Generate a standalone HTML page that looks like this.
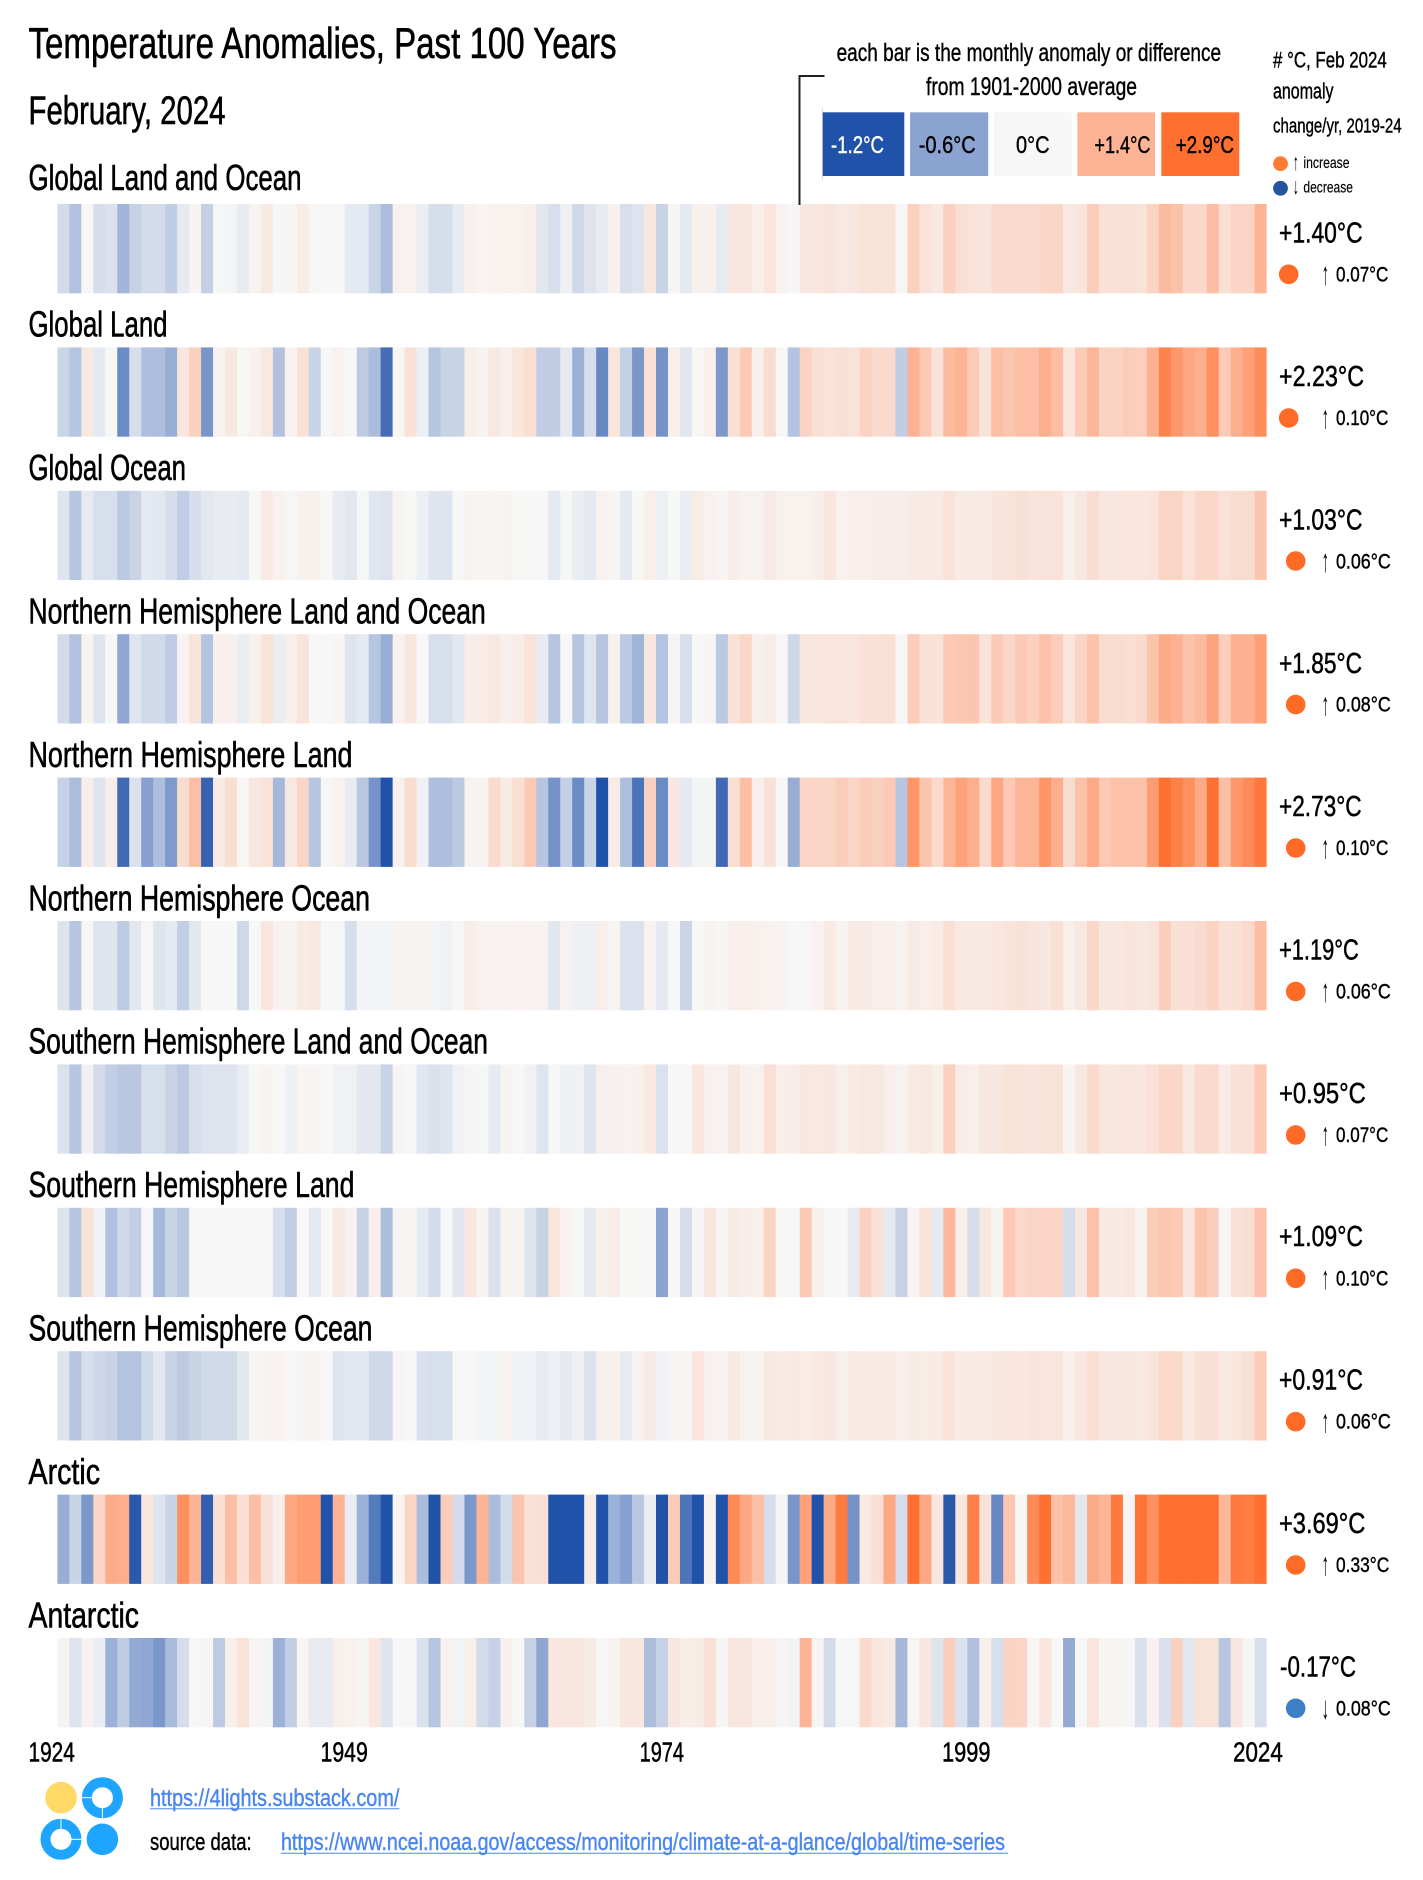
<!DOCTYPE html>
<html lang="en">
<head>
<meta charset="utf-8">
<title>Temperature Anomalies, Past 100 Years</title>
<style>
html,body{margin:0;padding:0;background:#fff;}
svg{display:block;}
text{font-family:"Liberation Sans",sans-serif;fill:#000;stroke:#000;stroke-width:.4;}
text[font-size="44"],text[font-size="40"],text[font-size="36"]{stroke-width:.6;}
text[font-size="29"],text[font-size="28"]{stroke-width:.5;}
text[font-size="16"]{stroke-width:.15;}
text[font-size="32"],text[font-size="23"]{stroke-width:0;}
</style>
</head>
<body>
<svg id="chart" xmlns="http://www.w3.org/2000/svg" width="1423" height="1880" viewBox="0 0 1423 1880">
<rect x="0" y="0" width="1423" height="1880" fill="#fff"/>
<g id="stripes"></g>

<text x="28.5" y="58" font-size="44" textLength="588" lengthAdjust="spacingAndGlyphs">Temperature Anomalies, Past 100 Years</text>
<text x="28.5" y="124" font-size="40" textLength="197" lengthAdjust="spacingAndGlyphs">February, 2024</text>

<text x="836.6" y="61" font-size="25" textLength="384.5" lengthAdjust="spacingAndGlyphs">each bar is the monthly anomaly or difference</text>
<text x="926" y="95" font-size="25" textLength="211" lengthAdjust="spacingAndGlyphs">from 1901-2000 average</text>
<path d="M824.5 76 H799.5 V205" fill="none" stroke="#222" stroke-width="2"/>
<line x1="822.5" y1="108" x2="822.5" y2="180" stroke="#ddd" stroke-width="1"/>
<rect x="822.7" y="112.3" width="81.6" height="63.7" fill="#2152a9"/>
<rect x="910.1" y="112.3" width="78.1" height="63.7" fill="#8aa3d0"/>
<rect x="994" y="112.3" width="77.6" height="63.7" fill="#f7f7f7"/>
<rect x="1077.4" y="112.3" width="77.6" height="63.7" fill="#fdb394"/>
<rect x="1161.3" y="112.3" width="78" height="63.7" fill="#ff6f2f"/>
<text x="831" y="153" font-size="24" textLength="53" lengthAdjust="spacingAndGlyphs" style="fill:#fff;stroke:#fff">-1.2°C</text>
<text x="918.7" y="153" font-size="24" textLength="57" lengthAdjust="spacingAndGlyphs">-0.6°C</text>
<text x="1016" y="153" font-size="24" textLength="33.6" lengthAdjust="spacingAndGlyphs">0°C</text>
<text x="1094.4" y="153" font-size="24" textLength="56" lengthAdjust="spacingAndGlyphs">+1.4°C</text>
<text x="1175.6" y="153" font-size="24" textLength="58.4" lengthAdjust="spacingAndGlyphs">+2.9°C</text>

<text x="1273" y="67.7" font-size="22" textLength="113.8" lengthAdjust="spacingAndGlyphs"># °C, Feb 2024</text>
<text x="1273" y="98.7" font-size="22" textLength="60.5" lengthAdjust="spacingAndGlyphs">anomaly</text>
<text x="1273" y="132.7" font-size="20" textLength="128.6" lengthAdjust="spacingAndGlyphs">change/yr, 2019-24</text>
<circle cx="1280.5" cy="163.7" r="7.4" fill="#ff7a33"/>
<text x="1292.8" y="170" font-size="23" textLength="6" lengthAdjust="spacingAndGlyphs">↑</text>
<text x="1303.4" y="168" font-size="16" textLength="46.2" lengthAdjust="spacingAndGlyphs">increase</text>
<circle cx="1280.5" cy="188.3" r="7.4" fill="#25559f"/>
<text x="1292.8" y="194" font-size="23" textLength="6" lengthAdjust="spacingAndGlyphs">↓</text>
<text x="1303.4" y="192.7" font-size="16" textLength="49.6" lengthAdjust="spacingAndGlyphs">decrease</text>

<text x="28.5" y="190" font-size="36" textLength="273" lengthAdjust="spacingAndGlyphs">Global Land and Ocean</text>
<text x="28.5" y="336.7" font-size="36" textLength="139" lengthAdjust="spacingAndGlyphs">Global Land</text>
<text x="28.5" y="480" font-size="36" textLength="157.5" lengthAdjust="spacingAndGlyphs">Global Ocean</text>
<text x="28.5" y="623.3" font-size="36" textLength="457.3" lengthAdjust="spacingAndGlyphs">Northern Hemisphere Land and Ocean</text>
<text x="28.5" y="767" font-size="36" textLength="324" lengthAdjust="spacingAndGlyphs">Northern Hemisphere Land</text>
<text x="28.5" y="910.3" font-size="36" textLength="341.5" lengthAdjust="spacingAndGlyphs">Northern Hemisphere Ocean</text>
<text x="28.5" y="1053.7" font-size="36" textLength="459.5" lengthAdjust="spacingAndGlyphs">Southern Hemisphere Land and Ocean</text>
<text x="28.5" y="1197" font-size="36" textLength="325.9" lengthAdjust="spacingAndGlyphs">Southern Hemisphere Land</text>
<text x="28.5" y="1340.5" font-size="36" textLength="343.9" lengthAdjust="spacingAndGlyphs">Southern Hemisphere Ocean</text>
<text x="28.5" y="1484" font-size="36" textLength="71.5" lengthAdjust="spacingAndGlyphs">Arctic</text>
<text x="28.5" y="1627.5" font-size="36" textLength="110.5" lengthAdjust="spacingAndGlyphs">Antarctic</text>

<text x="1279" y="242.7" font-size="29" textLength="83.6" lengthAdjust="spacingAndGlyphs">+1.40°C</text>
<text x="1279" y="385.8" font-size="29" textLength="85" lengthAdjust="spacingAndGlyphs">+2.23°C</text>
<text x="1279" y="529.4" font-size="29" textLength="83.5" lengthAdjust="spacingAndGlyphs">+1.03°C</text>
<text x="1279" y="672.8" font-size="29" textLength="83" lengthAdjust="spacingAndGlyphs">+1.85°C</text>
<text x="1279" y="816" font-size="29" textLength="82.6" lengthAdjust="spacingAndGlyphs">+2.73°C</text>
<text x="1279" y="959.4" font-size="29" textLength="79.8" lengthAdjust="spacingAndGlyphs">+1.19°C</text>
<text x="1279" y="1102.8" font-size="29" textLength="86.8" lengthAdjust="spacingAndGlyphs">+0.95°C</text>
<text x="1279" y="1246.2" font-size="29" textLength="84" lengthAdjust="spacingAndGlyphs">+1.09°C</text>
<text x="1279" y="1389.6" font-size="29" textLength="84" lengthAdjust="spacingAndGlyphs">+0.91°C</text>
<text x="1279" y="1533" font-size="29" textLength="86.3" lengthAdjust="spacingAndGlyphs">+3.69°C</text>
<text x="1280" y="1676.4" font-size="29" textLength="76" lengthAdjust="spacingAndGlyphs">-0.17°C</text>

<circle cx="1288.7" cy="274.3" r="9.8" fill="#ff6a26"/>
<circle cx="1288.7" cy="418" r="9.8" fill="#ff6a26"/>
<circle cx="1295.7" cy="561" r="9.8" fill="#ff6a26"/>
<circle cx="1295.7" cy="704.6" r="9.8" fill="#ff6a26"/>
<circle cx="1295.7" cy="848" r="9.8" fill="#ff6a26"/>
<circle cx="1295.7" cy="991.5" r="9.8" fill="#ff6a26"/>
<circle cx="1295.7" cy="1135" r="9.8" fill="#ff6a26"/>
<circle cx="1295.7" cy="1278.3" r="9.8" fill="#ff6a26"/>
<circle cx="1295.7" cy="1421.7" r="9.8" fill="#ff6a26"/>
<circle cx="1295.7" cy="1565" r="9.8" fill="#ff6a26"/>
<circle cx="1295.7" cy="1708.3" r="9.8" fill="#3d80c8"/>

<text x="1321.5" y="284.5" font-size="32" textLength="7.5" lengthAdjust="spacingAndGlyphs">↑</text>
<text x="1321.5" y="428" font-size="32" textLength="7.5" lengthAdjust="spacingAndGlyphs">↑</text>
<text x="1321.5" y="571.4" font-size="32" textLength="7.5" lengthAdjust="spacingAndGlyphs">↑</text>
<text x="1321.5" y="714.8" font-size="32" textLength="7.5" lengthAdjust="spacingAndGlyphs">↑</text>
<text x="1321.5" y="858.2" font-size="32" textLength="7.5" lengthAdjust="spacingAndGlyphs">↑</text>
<text x="1321.5" y="1001.6" font-size="32" textLength="7.5" lengthAdjust="spacingAndGlyphs">↑</text>
<text x="1321.5" y="1145" font-size="32" textLength="7.5" lengthAdjust="spacingAndGlyphs">↑</text>
<text x="1321.5" y="1288.4" font-size="32" textLength="7.5" lengthAdjust="spacingAndGlyphs">↑</text>
<text x="1321.5" y="1431.8" font-size="32" textLength="7.5" lengthAdjust="spacingAndGlyphs">↑</text>
<text x="1321.5" y="1575.2" font-size="32" textLength="7.5" lengthAdjust="spacingAndGlyphs">↑</text>
<text x="1321.5" y="1718.5" font-size="32" textLength="7.5" lengthAdjust="spacingAndGlyphs">↓</text>

<text x="1336" y="281.7" font-size="21" textLength="52.3" lengthAdjust="spacingAndGlyphs">0.07°C</text>
<text x="1336" y="425" font-size="21" textLength="52.3" lengthAdjust="spacingAndGlyphs">0.10°C</text>
<text x="1336" y="568.3" font-size="21" textLength="54.7" lengthAdjust="spacingAndGlyphs">0.06°C</text>
<text x="1336" y="711.7" font-size="21" textLength="54.7" lengthAdjust="spacingAndGlyphs">0.08°C</text>
<text x="1336" y="855.1" font-size="21" textLength="52.3" lengthAdjust="spacingAndGlyphs">0.10°C</text>
<text x="1336" y="998.5" font-size="21" textLength="54.7" lengthAdjust="spacingAndGlyphs">0.06°C</text>
<text x="1336" y="1141.9" font-size="21" textLength="52.3" lengthAdjust="spacingAndGlyphs">0.07°C</text>
<text x="1336" y="1285.3" font-size="21" textLength="52.3" lengthAdjust="spacingAndGlyphs">0.10°C</text>
<text x="1336" y="1428.7" font-size="21" textLength="54.7" lengthAdjust="spacingAndGlyphs">0.06°C</text>
<text x="1336" y="1572.1" font-size="21" textLength="53.3" lengthAdjust="spacingAndGlyphs">0.33°C</text>
<text x="1336" y="1715.5" font-size="21" textLength="54.7" lengthAdjust="spacingAndGlyphs">0.08°C</text>

<text x="28.5" y="1761.7" font-size="28" textLength="46.3" lengthAdjust="spacingAndGlyphs">1924</text>
<text x="320.5" y="1761.7" font-size="28" textLength="47.3" lengthAdjust="spacingAndGlyphs">1949</text>
<text x="639.6" y="1761.7" font-size="28" textLength="44.4" lengthAdjust="spacingAndGlyphs">1974</text>
<text x="942" y="1761.7" font-size="28" textLength="48.5" lengthAdjust="spacingAndGlyphs">1999</text>
<text x="1233" y="1761.7" font-size="28" textLength="49.8" lengthAdjust="spacingAndGlyphs">2024</text>

<g>
  <circle cx="61" cy="1797.7" r="15.8" fill="#ffd866"/>
  <circle cx="102.4" cy="1797.7" r="15.5" fill="none" stroke="#1ea5ff" stroke-width="10"/>
  <circle cx="61" cy="1839.3" r="15.5" fill="none" stroke="#1ea5ff" stroke-width="10"/>
  <circle cx="102.4" cy="1839.3" r="15.8" fill="#1ea5ff"/>
  <line x1="81" y1="1797.7" x2="92.5" y2="1797.7" stroke="#fff" stroke-width="1"/>
  <line x1="102.4" y1="1808" x2="102.4" y2="1819" stroke="#fff" stroke-width="1"/>
  <line x1="61" y1="1818" x2="61" y2="1829" stroke="#fff" stroke-width="1"/>
  <line x1="71" y1="1839.3" x2="82" y2="1839.3" stroke="#fff" stroke-width="1"/>
</g>

<text x="150" y="1806" font-size="24" textLength="249.4" lengthAdjust="spacingAndGlyphs" style="fill:#4a86f0;stroke:#4a86f0">https://4lights.substack.com/</text>
<line x1="150" y1="1808.8" x2="399.4" y2="1808.8" stroke="#4a86f0" stroke-width="1"/>
<text x="150" y="1850" font-size="24" textLength="101.6" lengthAdjust="spacingAndGlyphs">source data:</text>
<text x="281" y="1850" font-size="24" textLength="724" lengthAdjust="spacingAndGlyphs" style="fill:#4a86f0;stroke:#4a86f0">https://www.ncei.noaa.gov/access/monitoring/climate-at-a-glance/global/time-series</text>
<line x1="281" y1="1853.3" x2="1008" y2="1853.3" stroke="#4a86f0" stroke-width="1"/>
</svg>

<script>
const globalLandOcean = [-0.2,-0.38,0,-0.18,-0.15,-0.47,-0.27,-0.2,-0.2,-0.3,-0.1,0.08,-0.28,-0.01,-0.02,-0.08,0.08,0.28,0.02,0.04,0.22,0.03,0,0,-0.1,-0.1,-0.25,-0.42,0.1,0.13,-0.07,-0.18,-0.18,-0.08,0.15,0.07,0.13,0.13,0.13,0.17,-0.12,-0.17,-0.05,-0.22,-0.14,-0.08,0.15,-0.17,-0.14,0.32,-0.26,0.04,-0.1,0.15,0.15,-0.08,0.35,0.35,0.17,0.38,0.12,0.02,0.33,0.36,0.4,0.3,0.32,0.42,0.42,0.42,0.03,0.8,0.42,0.3,0.78,0.52,0.42,0.4,0.6,0.58,0.6,0.58,0.68,0.68,0.3,0.38,0.85,0.45,0.45,0.48,0.42,0.75,1.25,1.1,0.65,0.62,1.2,0.5,0.72,0.72,1.4];
const globalLand = [-0.25,-0.36,0.28,-0.1,0.01,-0.78,-0.18,-0.4,-0.4,-0.52,0.38,0.8,-0.7,0.1,0.3,0.01,0.15,0.3,-0.38,0.1,0.45,-0.25,0.01,0.13,0,-0.32,-0.42,-1,0.07,0.45,-0.06,-0.36,-0.26,-0.26,0.18,0.08,0.3,0.17,0.38,0.52,-0.3,-0.3,-0.1,-0.5,-0.18,-0.8,0.38,-0.28,-0.68,0.45,-0.72,0.17,-0.12,0.01,0.17,-0.68,0.5,0.95,0.15,0.55,0,-0.37,0.75,0.52,0.42,0.48,0.42,0.75,0.6,0.6,-0.3,1.45,0.95,0.42,1.25,1.4,0.9,0.42,1.15,1,1.15,1.15,1.5,1.2,0.38,0.9,1.35,0.75,0.75,0.88,0.83,1.45,2.45,2,1.65,1.5,2.2,0.9,1.5,1.85,2.23];
const globalOcean = [-0.13,-0.36,-0.09,-0.17,-0.17,-0.33,-0.26,-0.1,-0.11,-0.18,-0.3,-0.18,-0.11,-0.08,-0.08,-0.1,0.01,0.25,0.13,0.02,0.14,0.14,0,-0.08,-0.12,-0.01,-0.12,-0.14,0.08,0.01,-0.06,-0.13,-0.13,0,0.08,0.07,0.07,0.09,0.01,0.01,0,-0.1,-0.01,-0.07,-0.1,0.12,0.06,-0.1,0.01,0.17,-0.06,0.01,-0.07,0.22,0.12,0.06,0.2,0.11,0.11,0.25,0.14,0.13,0.13,0.18,0.36,0.13,0.19,0.18,0.2,0.2,0.2,0.27,0.27,0.27,0.44,0.24,0.24,0.26,0.4,0.4,0.47,0.4,0.43,0.42,0.17,0.3,0.53,0.35,0.35,0.38,0.36,0.4,0.7,0.72,0.42,0.65,0.65,0.45,0.55,0.55,1.03];
const nhLandOcean = [-0.2,-0.38,0.09,-0.13,0,-0.57,-0.13,-0.21,-0.21,-0.31,0.08,0.4,-0.37,0.14,0.14,-0.07,0.15,0.44,-0.07,0.17,0.4,0,0,0.06,-0.13,-0.1,-0.35,-0.52,0.12,0.35,0,-0.17,-0.17,-0.11,0.2,0.2,0.3,0.14,0.23,0.42,-0.08,-0.35,0,-0.35,-0.13,-0.35,0.14,-0.33,-0.48,0.33,-0.37,0.05,-0.17,0,0.04,-0.33,0.45,0.65,0.14,0.23,0,-0.22,0.35,0.35,0.38,0.38,0.36,0.45,0.45,0.5,0.02,0.88,0.45,0.42,0.95,0.98,1,0.42,0.92,0.65,0.92,0.8,1.12,0.88,0.38,0.72,1.08,0.55,0.55,0.52,0.6,1.05,1.6,1.45,1.1,1.25,1.75,0.85,1.45,1.45,1.85];
const nhLand = [-0.27,-0.42,0.2,-0.14,0.2,-1.02,-0.15,-0.62,-0.4,-0.66,0.55,1.15,-1.08,0.25,0.52,0.03,0.32,0.42,-0.45,0.3,0.72,-0.36,0.02,0.13,-0.08,-0.34,-0.72,-1.2,0.12,0.55,-0.04,-0.4,-0.4,-0.33,0.09,0.09,0.6,0.24,0.52,0.92,-0.35,-0.72,-0.28,-0.78,-0.25,-1.25,0.24,-0.4,-0.95,0.78,-0.78,0.32,-0.1,-0.02,-0.02,-1.02,0.52,1.15,0.16,0.45,0,-0.53,0.7,0.7,0.68,0.85,0.72,0.88,0.8,0.95,-0.36,2.05,1.05,0.6,1.35,1.8,1.5,0.6,1.65,0.95,1.35,1.35,2.05,1.5,0.55,1.1,1.6,0.95,1.1,1.1,1.1,1.9,2.9,2.5,2.2,1.6,2.85,1.15,2,2.3,2.73];
const nhOcean = [-0.14,-0.36,-0.01,-0.13,-0.13,-0.32,-0.11,0.02,-0.13,-0.1,-0.29,-0.11,0,0.01,0,-0.22,0,0.36,0.12,0.08,0.26,0.3,0,-0.01,-0.18,-0.02,-0.02,-0.02,0.08,0.08,0.08,-0.02,-0.04,0.02,0.23,0.1,0.1,0.1,0.12,0.1,0.1,-0.12,0.1,-0.05,-0.05,0.18,0.07,-0.15,-0.15,0.12,-0.1,0,-0.24,0,0.08,0.03,0.16,0.17,0.14,0.13,0.08,0,0.02,0.12,0.28,0.08,0.25,0.25,0.18,0.17,0.1,0.25,0.17,0.25,0.5,0.28,0.28,0.28,0.36,0.4,0.45,0.4,0.32,0.48,0.18,0.3,0.65,0.32,0.32,0.4,0.33,0.4,0.85,0.5,0.5,0.55,0.75,0.45,0.5,0.6,1.19];
const shLandOcean = [-0.15,-0.36,-0.04,-0.2,-0.29,-0.34,-0.34,-0.17,-0.17,-0.26,-0.33,-0.17,-0.14,-0.14,-0.14,-0.07,0,0.08,0.01,-0.05,0.06,0.06,0,-0.04,-0.04,-0.11,-0.11,-0.26,0.06,0,-0.12,-0.16,-0.13,-0.04,0.05,0.02,-0.09,0.08,0,-0.04,-0.13,0,-0.05,-0.04,-0.13,0.16,0.14,0.12,0.15,0.28,-0.15,0,0.01,0.36,0.14,0.1,0.32,0.14,0.13,0.5,0.17,0.2,0.32,0.3,0.34,0.18,0.25,0.3,0.3,0.16,0.1,0.25,0.3,0.18,0.82,0.22,0.18,0.33,0.33,0.42,0.42,0.4,0.42,0.42,0.08,0.3,0.6,0.35,0.35,0.38,0.35,0.45,0.65,0.65,0.3,0.6,0.6,0.25,0.45,0.5,0.95];
const shLand = [-0.14,-0.35,0.42,-0.04,-0.39,-0.22,-0.29,0,-0.44,-0.26,-0.34,0.01,0,0,0,0,0,0.01,-0.17,-0.29,0,-0.1,0.01,0.3,0.12,-0.27,0.16,-0.41,0.07,0.07,-0.1,-0.19,-0.01,-0.12,0.34,0.08,-0.16,0.08,0.08,-0.13,-0.26,0.38,0.12,-0.01,-0.1,0.14,0.23,0.01,0.01,0.02,-0.6,0,-0.18,0.05,0.36,0.05,0.25,0.2,0.18,0.72,0.03,0.02,0.95,0.18,0.02,0,-0.09,0.78,0.45,-0.1,-0.27,0.08,0.42,-0.1,1.3,0.18,-0.18,0.33,0.08,0.95,0.62,0.72,0.7,0.7,-0.18,0.33,1.12,0.28,0.28,0.33,0.1,0.88,0.98,0.95,0.35,1.08,0.85,0.03,0.45,0.52,1.09];
const shOcean = [-0.14,-0.36,-0.18,-0.23,-0.26,-0.37,-0.37,-0.21,-0.11,-0.26,-0.32,-0.26,-0.21,-0.21,-0.21,-0.11,0.05,0.08,0.12,0,0.08,0.08,0,-0.14,-0.11,-0.11,-0.22,-0.22,0.05,0,-0.16,-0.17,-0.17,-0.01,0,-0.02,-0.03,0.08,-0.04,-0.04,-0.09,-0.06,-0.1,-0.05,-0.15,0.14,0.14,-0.08,0.12,0.26,-0.04,0.05,0.05,0.38,0.14,0.12,0.3,0.1,0.1,0.3,0.25,0.28,0.22,0.3,0.36,0.18,0.26,0.25,0.25,0.25,0.16,0.24,0.22,0.24,0.44,0.24,0.24,0.26,0.35,0.38,0.36,0.4,0.38,0.38,0.18,0.32,0.5,0.33,0.33,0.35,0.3,0.4,0.62,0.62,0.3,0.5,0.5,0.3,0.38,0.48,0.91];
const arctic = [-0.53,-0.25,-0.68,0.7,1.55,1.5,-1.15,0.36,-0.13,-0.25,2.2,1.4,-1.1,0.5,1.15,0.5,1.15,0.45,0.18,1.65,1.9,1.9,-1.3,1.4,-0.07,-0.5,-0.9,-1.2,0.07,0.7,-0.42,-1.3,0.88,-0.2,-0.68,1.4,-0.42,-0.2,1.05,0.45,0.5,-1.5,-1.6,-1.5,0.22,-1.3,-0.5,-0.62,-0.34,-0.07,-1.3,0.9,-0.95,-1.25,0.12,-1.25,2.3,1.65,1.15,-0.18,0.05,-0.7,1.8,-1.25,1.6,2.65,-0.72,0.28,0.5,1.65,-0.18,2.85,1.65,0.36,-1.15,0.36,2.55,0.45,-0.8,1,0,2.3,2.85,1.1,1.3,-0.12,1.6,1.35,2.65,0.05,2.8,2.2,3,3.2,3.3,3.1,3,1.3,2.65,2.6,3.69];
const antarctic = [0.08,-0.14,0.11,-0.07,-0.5,-0.31,-0.55,-0.57,-0.68,-0.43,-0.18,0,0.06,-0.32,0.14,0.44,0.06,-0.02,-0.5,-0.29,0.07,-0.09,-0.09,0.18,0.12,0.05,0.36,-0.13,0,0,-0.15,-0.36,0.12,-0.03,0.18,-0.2,-0.27,0.14,0,-0.27,-0.58,0.34,0.34,0.34,0.22,0.02,0.08,0.35,0.36,-0.41,-0.27,0.32,0.2,0.22,0.45,0.02,0.36,0.32,0.18,0.18,0.04,-0.03,1.4,0.07,-0.2,0,-0.01,0.6,0.36,0.28,-0.45,0.06,0.36,-0.14,0.85,-0.15,-0.39,0.18,-0.17,0.75,0.7,0.03,0.35,0,-0.55,-0.01,0.38,0.07,0.07,0.02,-0.16,0.12,-0.16,0.8,-0.11,0.42,0.42,-0.36,0.32,0.02,-0.17];

const regionKeys = ['global-land-ocean','global-land','global-ocean','nh-land-ocean','nh-land','nh-ocean','sh-land-ocean','sh-land','sh-ocean','arctic','antarctic'];
const regionSeries = [globalLandOcean,globalLand,globalOcean,nhLandOcean,nhLand,nhOcean,shLandOcean,shLand,shOcean,arctic,antarctic];
const firstYear = 1924;
const lastYear = 2024;
const colorStops = [-1.2,-0.6,0,1.4,2.9];
const colorRamp = [[33,82,169],[138,163,208],[247,247,247],[253,179,148],[255,111,47]];

const plotLeft = 57.4, plotRight = 1266.6, rowFirstTop = 204, rowStep = 143.4, rowHeight = 89.3;
function xScale(year){ return plotLeft + (year - firstYear) * (plotRight - plotLeft) / (lastYear - firstYear + 1); }
function yScale(rowIndex){ return rowFirstTop + rowStep * rowIndex; }
function colorScale(v){
  const n = colorStops.length;
  if (v <= colorStops[0]) return 'rgb(' + colorRamp[0].join(',') + ')';
  if (v >= colorStops[n-1]) return 'rgb(' + colorRamp[n-1].join(',') + ')';
  for (let k = 0; k < n-1; k++) {
    if (v <= colorStops[k+1]) {
      const t = (v - colorStops[k]) / (colorStops[k+1] - colorStops[k]);
      const c = colorRamp[k].map((a, j) => Math.round(a + (colorRamp[k+1][j] - a) * t));
      return 'rgb(' + c.join(',') + ')';
    }
  }
}

const SVGNS = 'http://www.w3.org/2000/svg';
const stripes = document.getElementById('stripes');
const step = (plotRight - plotLeft) / (lastYear - firstYear + 1);
regionSeries.forEach(function(values, r){
  const group = document.createElementNS(SVGNS, 'g');
  
  
  values.forEach(function(v, i){
    const year = firstYear + i;
    const el = document.createElementNS(SVGNS, 'rect');
    
    
    el.setAttribute('x', xScale(year).toFixed(2));
    el.setAttribute('y', yScale(r).toFixed(2));
    el.setAttribute('width', (step + (i < values.length - 1 ? 0.5 : 0)).toFixed(2));
    el.setAttribute('height', rowHeight);
    el.setAttribute('fill', colorScale(v));
    group.appendChild(el);
  });
  stripes.appendChild(group);
});
</script>
</body>
</html>
